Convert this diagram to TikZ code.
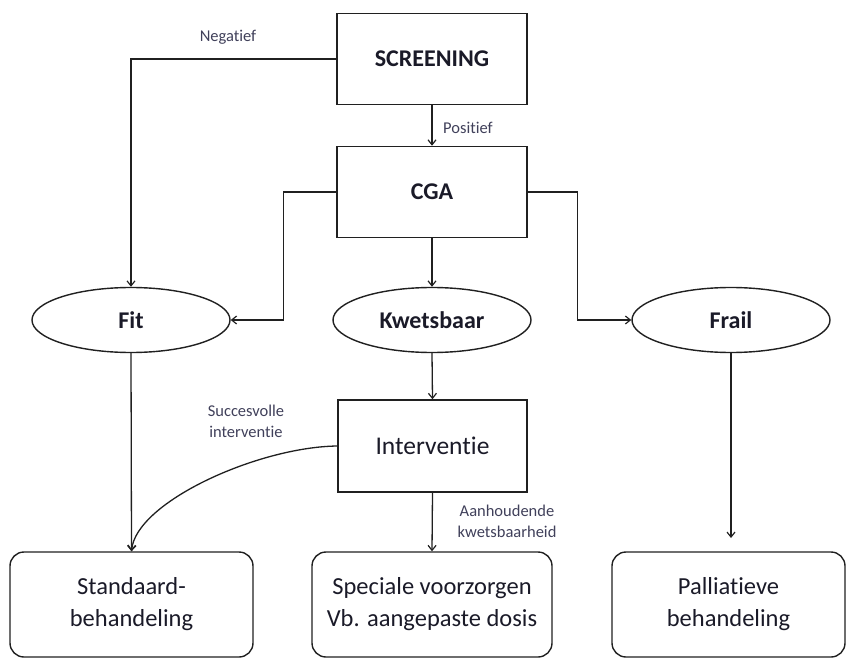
\documentclass[tikz,border=0pt]{standalone}
\usepackage{fontspec}
\setmainfont{Carlito}[Ligatures={NoCommon}]
\usetikzlibrary{shapes.geometric,arrows.meta}
\definecolor{txt}{HTML}{1A1A28}
\definecolor{lbl}{HTML}{40405A}
\definecolor{ln}{HTML}{202020}
\tikzset{
  box/.style={draw=ln, line width=1.5pt, rectangle, minimum width=190pt, minimum height=91pt, inner sep=0pt, text=txt},
  oval/.style={draw=ln, line width=1.4pt, ellipse, minimum width=198pt, minimum height=65pt, inner sep=0pt, text=txt, font=\fontsize{24}{28}\selectfont\bfseries},
  endbox/.style={draw=ln, line width=1.4pt, rectangle, rounded corners=14pt, minimum height=105pt, inner sep=0pt, align=center, text=txt, font=\fontsize{24.5}{32}\selectfont},
  lab/.style={text=lbl, align=center, font=\fontsize{16.5}{21}\selectfont, inner sep=0pt},
  arr/.style={draw=ln, line width=1.3pt, -{Straight Barb[length=5pt,width=8pt,line width=1.2pt]}},
  plain/.style={draw=ln, line width=1.3pt}
}
\begin{document}
\begin{tikzpicture}[x=1pt,y=-1pt]
\useasboundingbox (0,0) rectangle (846,658);
\node[box, font=\fontsize{24}{28}\selectfont\bfseries] (scr) at (432,59) {SCREENING};
\node[box, font=\fontsize{24}{28}\selectfont\bfseries] (cga) at (432,192) {CGA};
\node[oval] (fit) at (131,320) {Fit};
\node[oval] (kw) at (432,320) {Kwetsbaar};
\node[oval] (frail) at (731,320) {Frail};
\node[box, minimum width=189pt, minimum height=92pt, font=\fontsize{25.5}{30}\selectfont] (int) at (432.5,446) {Interventie};
\node[endbox, minimum width=243pt] (std) at (131.5,604.5) {Standaard-\\behandeling};
\node[endbox, minimum width=240pt] (spec) at (432,604.5) {Speciale voorzorgen\\Vb. aangepaste dosis};
\node[endbox, minimum width=233pt] (pal) at (728.5,604.5) {Palliatieve\\behandeling};
\coordinate (frailend) at (731,538);
% labels
\node[lab] (neg) at (228,37) {Negatief};
\node[lab, anchor=west] (pos) at (443,128) {Positief};
\node[lab] (succ) at (246,421) {Succesvolle\\interventie};
\node[lab] (aanh) at (507,521) {Aanhoudende\\kwetsbaarheid};
% connectors
\draw[arr] (scr.west) -| (fit.north);
\draw[arr] (scr.south) -- (cga.north);
\draw[arr] (cga.west) -| ([xshift=53pt]fit.east) -- (fit.east);
\draw[arr] (cga.east) -| ([xshift=-54pt]frail.west) -- (frail.west);
\draw[arr] (cga.south) -- (kw.north);
\draw[arr] (kw.south) -- (int.north);
\draw[arr] (fit.south) -- (std.north);
\draw[arr] (int.west) .. controls (258,447) and (136,502) .. (std.north);
\draw[arr] (int.south) -- (spec.north);
\draw[arr] (frail.south) -- (frailend);
\end{tikzpicture}
\end{document}
